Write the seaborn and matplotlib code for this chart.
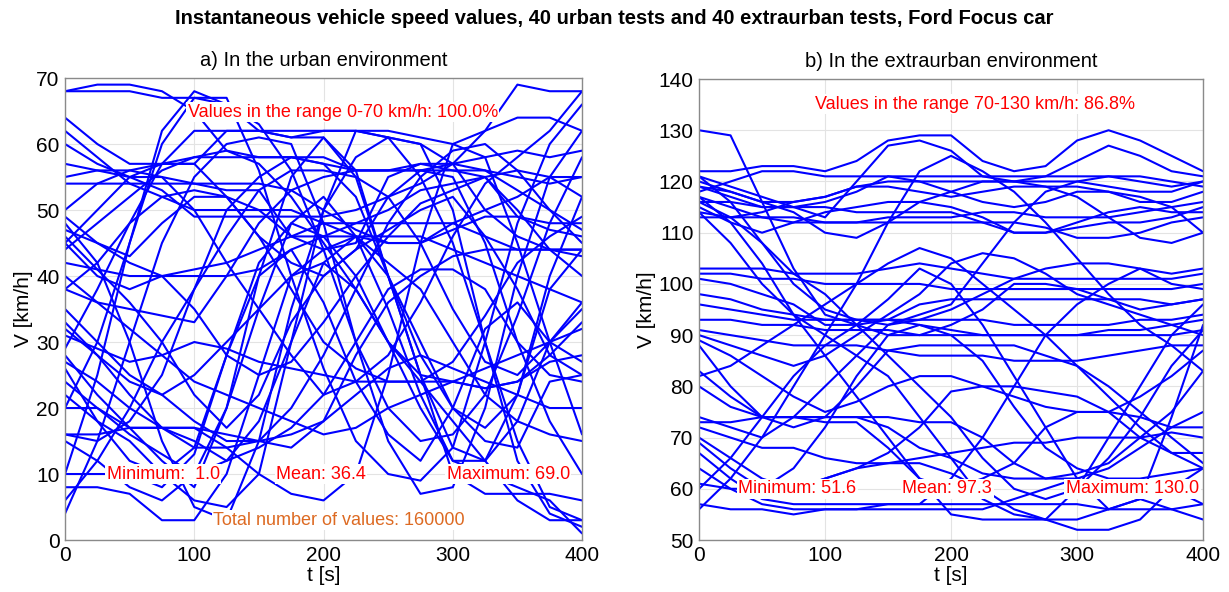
import numpy as np
import pandas as pd
import seaborn as sns
import matplotlib
matplotlib.use('Agg')
import matplotlib.pyplot as plt

# Sample times [s]
time_s = [0, 25, 50, 75, 100, 125, 150, 175, 200, 225, 250, 275, 300, 325, 350, 375, 400]

# Urban tests, speed [km/h] read at the sample times
urban_runs = [
    [68, 68, 68, 67, 67, 66, 62, 62, 62, 62, 62, 61, 60, 62, 64, 64, 62],
    [68, 69, 69, 68, 65, 59, 58, 58, 57, 56, 56, 56, 57, 62, 69, 68, 68],
    [64, 60, 57, 57, 57, 62, 62, 61, 62, 62, 61, 60, 57, 50, 46, 44, 43],
    [62, 58, 54, 52, 50, 50, 50, 50, 48, 46, 45, 45, 47, 49, 49, 48, 48],
    [60, 57, 55, 55, 54, 53, 53, 46, 44, 45, 55, 57, 56, 56, 53, 50, 47],
    [55, 56, 55, 53, 49, 49, 49, 49, 49, 50, 52, 54, 57, 58, 59, 58, 59],
    [54, 54, 54, 54, 54, 54, 54, 53, 50, 47, 45, 45, 48, 50, 52, 55, 55],
    [50, 54, 56, 57, 58, 58, 58, 58, 58, 56, 56, 56, 56, 55, 49, 47, 46],
    [49, 45, 42, 40, 35, 28, 25, 27, 33, 40, 46, 51, 53, 55, 50, 44, 40],
    [47, 45, 43, 48, 52, 52, 50, 46, 46, 46, 46, 46, 44, 42, 40, 38, 36],
    [45, 40, 38, 40, 41, 42, 44, 46, 48, 48, 48, 48, 48, 46, 44, 44, 44],
    [44, 48, 52, 56, 58, 59, 57, 52, 45, 38, 30, 25, 24, 23, 24, 28, 33],
    [42, 41, 40, 40, 40, 40, 41, 44, 46, 48, 50, 53, 54, 55, 56, 55, 52],
    [40, 36, 35, 34, 33, 40, 48, 53, 55, 56, 56, 57, 57, 56, 55, 54, 55],
    [38, 36, 32, 28, 24, 22, 20, 18, 16, 17, 20, 22, 24, 26, 28, 30, 32],
    [35, 30, 25, 22, 18, 15, 15, 16, 18, 22, 26, 28, 26, 24, 22, 20, 20],
    [32, 28, 24, 22, 25, 30, 35, 40, 44, 46, 42, 38, 30, 22, 18, 16, 15],
    [31, 29, 27, 28, 30, 29, 27, 26, 25, 24, 24, 24, 24, 23, 24, 27, 28],
    [28, 22, 17, 12, 8, 20, 40, 55, 61, 56, 40, 25, 10, 7, 7, 7, 6],
    [27, 24, 20, 17, 14, 14, 15, 20, 28, 38, 48, 55, 59, 60, 56, 50, 45],
    [24, 20, 17, 17, 17, 14, 10, 7, 6, 10, 25, 45, 60, 58, 45, 30, 16],
    [22, 18, 15, 10, 6, 5, 10, 30, 50, 62, 61, 55, 45, 30, 15, 5, 3],
    [20, 20, 16, 13, 10, 12, 18, 30, 42, 46, 40, 30, 20, 15, 14, 24, 25],
    [16, 16, 17, 17, 15, 12, 14, 17, 22, 30, 38, 41, 41, 38, 30, 25, 24],
    [16, 15, 18, 25, 38, 50, 55, 58, 57, 52, 40, 28, 20, 17, 22, 40, 52],
    [15, 12, 8, 6, 10, 20, 35, 48, 52, 46, 35, 22, 12, 10, 8, 6, 1],
    [10, 10, 10, 8, 13, 28, 42, 48, 46, 40, 30, 20, 12, 12, 22, 38, 44],
    [6, 12, 20, 30, 38, 46, 53, 56, 56, 55, 52, 45, 35, 27, 25, 30, 35],
    [4, 15, 30, 45, 55, 60, 61, 60, 48, 30, 15, 7, 8, 20, 40, 55, 62],
    [48, 42, 30, 15, 5, 3, 15, 35, 50, 58, 61, 60, 50, 30, 12, 4, 2],
    [29, 38, 48, 57, 62, 62, 62, 61, 61, 55, 40, 25, 14, 12, 18, 30, 36],
    [10, 25, 45, 62, 68, 66, 63, 56, 44, 30, 20, 15, 16, 22, 34, 48, 58],
    [20, 30, 45, 60, 67, 67, 56, 40, 26, 15, 10, 9, 14, 30, 48, 60, 66],
    [46, 41, 36, 30, 22, 17, 22, 33, 40, 44, 47, 50, 52, 46, 38, 28, 25],
    [38, 42, 48, 52, 53, 52, 46, 38, 30, 26, 24, 24, 27, 34, 42, 46, 49],
    [33, 28, 22, 17, 17, 16, 15, 14, 18, 28, 36, 40, 43, 44, 44, 44, 44],
    [8, 8, 7, 3, 3, 10, 25, 40, 42, 38, 30, 24, 18, 12, 6, 3, 3],
    [45, 50, 55, 57, 57, 52, 46, 42, 40, 44, 52, 56, 55, 45, 30, 18, 10],
    [26, 18, 12, 10, 14, 28, 40, 44, 36, 24, 16, 12, 20, 32, 36, 30, 27],
    [57, 56, 56, 55, 50, 42, 35, 28, 22, 24, 28, 36, 46, 54, 58, 62, 68],
]

# Extraurban tests, speed [km/h] read at the sample times
extra_runs = [
    [130, 129, 116, 103, 94, 92, 90, 90, 92, 95, 100, 100, 99, 97, 95, 96, 97],
    [122, 122, 123, 123, 122, 124, 128, 129, 129, 124, 122, 123, 128, 130, 128, 125, 122],
    [121, 119, 117, 115, 113, 120, 127, 128, 126, 121, 120, 121, 124, 127, 125, 122, 121],
    [120, 118, 116, 116, 117, 119, 120, 120, 120, 120, 120, 120, 120, 119, 118, 118, 120],
    [119, 117, 115, 115, 116, 118, 121, 121, 121, 121, 121, 121, 121, 121, 121, 120, 119],
    [118, 120, 122, 122, 121, 121, 121, 120, 118, 116, 115, 116, 118, 118, 116, 116, 118],
    [117, 115, 113, 112, 112, 112, 113, 113, 113, 114, 114, 113, 113, 113, 114, 115, 116],
    [116, 116, 115, 115, 115, 114, 114, 114, 114, 112, 110, 110, 111, 112, 112, 113, 115],
    [115, 112, 110, 112, 114, 115, 116, 116, 115, 113, 110, 110, 112, 114, 115, 114, 114],
    [114, 113, 113, 113, 112, 112, 112, 112, 112, 112, 112, 111, 109, 109, 110, 112, 113],
    [113, 113, 114, 116, 117, 119, 119, 118, 117, 118, 119, 119, 119, 118, 117, 115, 110],
    [119, 118, 116, 114, 110, 109, 112, 116, 118, 120, 120, 119, 117, 113, 109, 108, 110],
    [121, 116, 108, 100, 95, 93, 92, 93, 95, 98, 101, 103, 104, 104, 103, 102, 103],
    [103, 103, 103, 102, 102, 102, 103, 104, 103, 102, 101, 101, 101, 101, 101, 101, 102],
    [102, 102, 101, 101, 100, 100, 100, 100, 99, 99, 99, 99, 99, 99, 99, 99, 100],
    [101, 100, 98, 96, 92, 92, 93, 96, 97, 97, 97, 97, 97, 97, 97, 96, 97],
    [98, 97, 95, 94, 93, 93, 93, 93, 93, 93, 92, 92, 92, 92, 93, 93, 94],
    [96, 95, 94, 93, 93, 93, 93, 92, 91, 90, 90, 90, 90, 91, 91, 92, 93],
    [93, 93, 92, 92, 91, 91, 91, 90, 90, 90, 90, 90, 90, 90, 90, 90, 91],
    [91, 90, 89, 88, 88, 88, 87, 86, 86, 86, 85, 85, 85, 86, 87, 88, 88],
    [90, 88, 86, 84, 86, 90, 94, 98, 104, 106, 105, 102, 98, 96, 94, 92, 90],
    [89, 86, 82, 78, 75, 77, 80, 82, 82, 80, 78, 76, 75, 75, 78, 82, 87],
    [83, 78, 74, 74, 74, 74, 74, 73, 73, 70, 65, 62, 63, 65, 70, 75, 83],
    [80, 76, 74, 74, 74, 74, 72, 68, 66, 63, 62, 62, 62, 64, 68, 72, 75],
    [73, 73, 74, 74, 73, 73, 68, 62, 60, 62, 65, 72, 75, 75, 74, 72, 72],
    [72, 70, 68, 68, 66, 65, 65, 66, 67, 68, 69, 69, 70, 70, 70, 71, 70],
    [70, 66, 62, 60, 62, 64, 67, 72, 79, 80, 80, 79, 78, 75, 70, 67, 67],
    [69, 64, 60, 64, 72, 82, 90, 92, 90, 85, 76, 68, 64, 62, 62, 63, 64],
    [67, 62, 58, 57, 57, 57, 57, 57, 62, 70, 80, 90, 96, 100, 103, 100, 99],
    [64, 60, 57, 56, 56, 56, 56, 56, 56, 56, 58, 60, 62, 60, 58, 56, 57],
    [61, 60, 60, 60, 62, 64, 65, 65, 63, 60, 56, 54, 54, 56, 58, 60, 57],
    [57, 56, 56, 55, 56, 56, 57, 57, 57, 57, 57, 57, 57, 56, 56, 56, 54],
    [88, 80, 74, 72, 74, 80, 87, 88, 88, 88, 88, 86, 84, 80, 75, 70, 65],
    [117, 112, 104, 94, 86, 78, 70, 62, 55, 54, 54, 54, 60, 70, 80, 90, 96],
    [116, 113, 108, 102, 98, 92, 86, 80, 74, 66, 60, 58, 60, 66, 74, 84, 91],
    [114, 108, 100, 94, 90, 86, 82, 74, 66, 58, 55, 54, 52, 52, 54, 60, 64],
    [82, 84, 88, 92, 96, 100, 104, 107, 105, 100, 95, 90, 84, 78, 72, 67, 64],
    [60, 66, 74, 82, 88, 92, 97, 103, 100, 92, 82, 72, 62, 56, 58, 74, 92],
    [56, 62, 70, 80, 90, 100, 112, 122, 125, 122, 118, 112, 105, 98, 92, 88, 83],
    [74, 72, 70, 74, 80, 86, 92, 94, 96, 104, 112, 118, 120, 121, 120, 119, 120],
]

# Statistics printed on the chart
urban_range_pct = 100.0
urban_min, urban_mean, urban_max = 1.0, 36.4, 69.0
urban_total = 160000
extra_range_pct = 86.8
extra_min, extra_mean, extra_max = 51.6, 97.3, 130.0


def to_long(runs):
    rows = []
    for i, run in enumerate(runs):
        for t, v in zip(time_s, run):
            rows.append((i, t, v))
    return pd.DataFrame(rows, columns=['run', 't', 'v'])


sns.set_style('whitegrid')
plt.rcParams['font.family'] = ['Liberation Sans', 'DejaVu Sans']
plt.rcParams['text.color'] = 'black'
plt.rcParams['axes.labelcolor'] = 'black'

fig = plt.figure(figsize=(12.29, 5.92), dpi=100)
ax1 = fig.add_axes([0.0529, 0.0878, 0.4207, 0.7804])
ax2 = fig.add_axes([0.5688, 0.0878, 0.4101, 0.7787])

red_box = dict(facecolor='white', edgecolor='none', pad=1.0)


def style_axes(ax, ylim, yticks, subtitle):
    ax.set_xlim(0, 400)
    ax.set_ylim(*ylim)
    ax.set_xticks([0, 100, 200, 300, 400])
    ax.set_yticks(yticks)
    ax.grid(True, color='#e3e3e3', linewidth=0.8, linestyle='-')
    ax.set_axisbelow(True)
    for s in ax.spines.values():
        s.set_color('#8a8a8a')
        s.set_linewidth(1.0)
    ax.tick_params(axis='both', direction='in', length=4, color='#8a8a8a',
                   labelsize=15, pad=4, labelcolor='black')
    ax.set_xlabel('t [s]', fontsize=15, labelpad=1)
    ax.set_ylabel('V [km/h]', fontsize=15, labelpad=2)
    ax.set_title(subtitle, fontsize=14.5, pad=9, color='black')


# a) urban
sns.lineplot(data=to_long(urban_runs), x='t', y='v', units='run', estimator=None,
             color='#0000ff', linewidth=1.5, ax=ax1, legend=False)
style_axes(ax1, (0, 70), range(0, 71, 10), 'a) In the urban environment')
ax1.text(215, 64.8, f'Values in the range 0-70 km/h: {urban_range_pct:.1f}%',
         color='red', fontsize=13, ha='center', va='center', bbox=red_box)
ax1.text(76, 10, f'Minimum:  {urban_min:.1f}', color='red', fontsize=13,
         ha='center', va='center', bbox=red_box)
ax1.text(198, 10, f'Mean: {urban_mean:.1f}', color='red', fontsize=13,
         ha='center', va='center', bbox=red_box)
ax1.text(343, 10, f'Maximum: {urban_max:.1f}', color='red', fontsize=13,
         ha='center', va='center', bbox=red_box)
ax1.text(212, 3, f'Total number of values: {urban_total}', color='#dd6a22',
         fontsize=13, ha='center', va='center', bbox=red_box)

# b) extraurban
sns.lineplot(data=to_long(extra_runs), x='t', y='v', units='run', estimator=None,
             color='#0000ff', linewidth=1.5, ax=ax2, legend=False)
style_axes(ax2, (50, 140), range(50, 141, 10), 'b) In the extraurban environment')
ax2.text(219, 135.1, f'Values in the range 70-130 km/h: {extra_range_pct:.1f}%',
         color='red', fontsize=13, ha='center', va='center', bbox=red_box)
ax2.text(78, 60, f'Minimum: {extra_min:.1f}', color='red', fontsize=13,
         ha='center', va='center', bbox=red_box)
ax2.text(197, 60, f'Mean: {extra_mean:.1f}', color='red', fontsize=13,
         ha='center', va='center', bbox=red_box)
ax2.text(344, 60, f'Maximum: {extra_max:.1f}', color='red', fontsize=13,
         ha='center', va='center', bbox=red_box)

fig.suptitle('Instantaneous vehicle speed values, 40 urban tests and 40 extraurban tests, Ford Focus car',
             fontsize=14.5, fontweight='bold', y=0.985, color='black')

fig.savefig('out.png', dpi=100)
